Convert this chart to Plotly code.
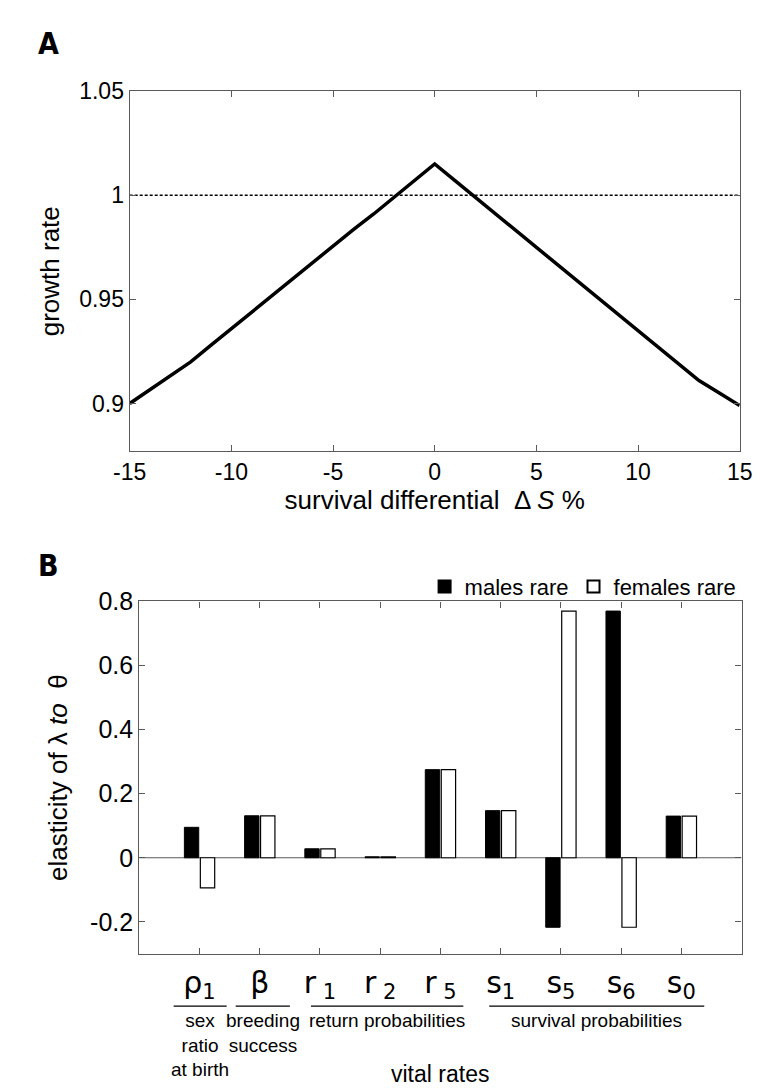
import plotly.graph_objects as go

# ---------------- data ----------------
# Panel A: growth rate vs survival differential
delta_s = [-15, -14, -13, -12, -11, -10, -9, -8, -7, -6, -5, -4, -3, -2, -1, 0,
           1, 2, 3, 4, 5, 6, 7, 8, 9, 10, 11, 12, 13, 14, 15]
growth = [0.900, 0.9065, 0.9130, 0.9200, 0.9280, 0.9360, 0.9440, 0.9515, 0.9595,
          0.9675, 0.9755, 0.9835, 0.9910, 0.9990, 1.0070, 1.0150,
          1.0070, 0.9990, 0.9910, 0.9830, 0.9750, 0.9670, 0.9590, 0.9510, 0.9430,
          0.9350, 0.9270, 0.9190, 0.9110, 0.9050, 0.8990]
a_xticks = [-15, -10, -5, 0, 5, 10, 15]
a_xticklabels = ["-15", "-10", "-5", "0", "5", "10", "15"]
a_yticks = [0.9, 0.95, 1.0, 1.05]
a_yticklabels = ["0.9", "0.95", "1", "1.05"]

# Panel B: elasticities
vital_rates = ["ρ<sub>1</sub>", "β", "r<sub> 1</sub>", "r<sub> 2</sub>", "r<sub> 5</sub>",
               "s<sub>1</sub>", "s<sub>5</sub>", "s<sub>6</sub>", "s<sub>0</sub>"]
males_rare = [0.095, 0.131, 0.028, 0.003, 0.275, 0.147, -0.217, 0.770, 0.130]
females_rare = [-0.094, 0.131, 0.028, 0.003, 0.275, 0.147, 0.770, -0.217, 0.130]
b_yticks = [-0.2, 0, 0.2, 0.4, 0.6, 0.8]
b_yticklabels = ["-0.2", "0", "0.2", "0.4", "0.6", "0.8"]

group_labels = ["sex<br>ratio<br>at birth", "breeding<br>success",
                "return probabilities", "survival probabilities"]
group_start = [0.57, 1.60, 2.85, 5.81]
group_end = [1.45, 2.50, 5.38, 9.38]

# ---------------- figure ----------------
W, H = 761, 1089
def py(px):
    return 1 - px / H

AX = "#5a5a5a"
TICKFONT = "Liberation Sans, Arial, sans-serif"
NARROW = "Liberation Sans Narrow, Liberation Sans, Arial"
pos = list(range(1, len(vital_rates) + 1))

fig = go.Figure()

fig.add_trace(go.Scatter(x=[-15, 15], y=[1, 1], mode="lines",
                         line=dict(color="black", width=1.6, dash="3px,2px"),
                         xaxis="x", yaxis="y", showlegend=False, hoverinfo="skip"))
fig.add_trace(go.Scatter(x=delta_s, y=growth, mode="lines",
                         line=dict(color="black", width=3.5),
                         xaxis="x", yaxis="y", showlegend=False))

fig.add_trace(go.Bar(x=pos, y=males_rare, name="males rare",
                     marker=dict(color="black", line=dict(color="black", width=1)),
                     xaxis="x2", yaxis="y2"))
fig.add_trace(go.Bar(x=pos, y=females_rare, name="females rare",
                     marker=dict(color="white", line=dict(color="black", width=1.2)),
                     xaxis="x2", yaxis="y2"))

common = dict(showline=True, linecolor=AX, linewidth=1.3, mirror="ticks",
              ticks="inside", ticklen=6, tickcolor=AX, tickwidth=1,
              showgrid=False, zeroline=False)

fig.update_layout(
    width=W, height=H,
    margin=dict(l=0, r=0, t=0, b=0),
    paper_bgcolor="white", plot_bgcolor="white",
    barmode="group", bargap=0.47, bargroupgap=0.1,
    font=dict(family=TICKFONT, color="black"),
    xaxis=dict(domain=[109 / W, 744 / W], anchor="y", range=[-15, 15],
               tickvals=a_xticks, ticktext=a_xticklabels,
               tickfont=dict(size=23, family=TICKFONT),
               title=dict(text="survival differential  Δ <i>S</i> %",
                          font=dict(size=26), standoff=0),
               **common),
    yaxis=dict(domain=[py(435), py(70)], anchor="x", range=[0.877, 1.05],
               tickvals=a_yticks, ticktext=a_yticklabels,
               tickfont=dict(size=23, family=TICKFONT),
               title=dict(text="growth rate", font=dict(size=26), standoff=12),
               **common),
    xaxis2=dict(domain=[119 / W, 746 / W], anchor="y2", range=[0, 10],
                tickvals=pos, ticktext=vital_rates,
                tickfont=dict(size=30, family="DejaVu Sans, sans-serif"),
                ticklabelstandoff=2,
                **common),
    yaxis2=dict(domain=[py(944), py(587)], anchor="x2", range=[-0.3, 0.8],
                tickvals=b_yticks, ticktext=b_yticklabels,
                tickfont=dict(size=25, family=TICKFONT),
                title=dict(text="elasticity of λ <i>to</i>  θ", font=dict(size=26),
                           standoff=14),
                **common),
    legend=dict(orientation="h", x=746 / W, xanchor="right", y=py(572), yanchor="middle",
                font=dict(size=22), itemwidth=30, tracegroupgap=0,
                bgcolor="rgba(0,0,0,0)", traceorder="normal",
                itemsizing="constant"),
)

# zero baseline for the bars
fig.add_shape(type="line", xref="x2", yref="y2", x0=0, x1=10, y0=0, y1=0,
              line=dict(color=AX, width=1.2), layer="below")

# panel letters
fig.add_annotation(text="<b>A</b>", x=24 / W, y=py(22), xref="paper", yref="paper",
                   showarrow=False, font=dict(size=30, family="DejaVu Sans Condensed, DejaVu Sans"),
                   xanchor="center", yanchor="middle")
fig.add_annotation(text="<b>B</b>", x=24 / W, y=py(551), xref="paper", yref="paper",
                   showarrow=False, font=dict(size=30, family="DejaVu Sans Condensed, DejaVu Sans"),
                   xanchor="center", yanchor="middle")

# group labels under the categories
for lbl, s, e in zip(group_labels, group_start, group_end):
    fig.add_shape(type="line", xref="x2", yref="paper", x0=s, x1=e,
                  y0=py(997), y1=py(997), line=dict(color="black", width=1.2))
    fig.add_annotation(text=lbl, x=(s + e) / 2, y=py(999), xref="x2", yref="paper",
                       showarrow=False, xanchor="center", yanchor="top",
                       font=dict(size=19, family=NARROW))

fig.add_annotation(text="vital rates", x=432 / W, y=py(1066), xref="paper", yref="paper",
                   showarrow=False, xanchor="center", yanchor="middle", borderpad=0,
                   font=dict(size=23, family=TICKFONT))

fig.write_html("out.html")
